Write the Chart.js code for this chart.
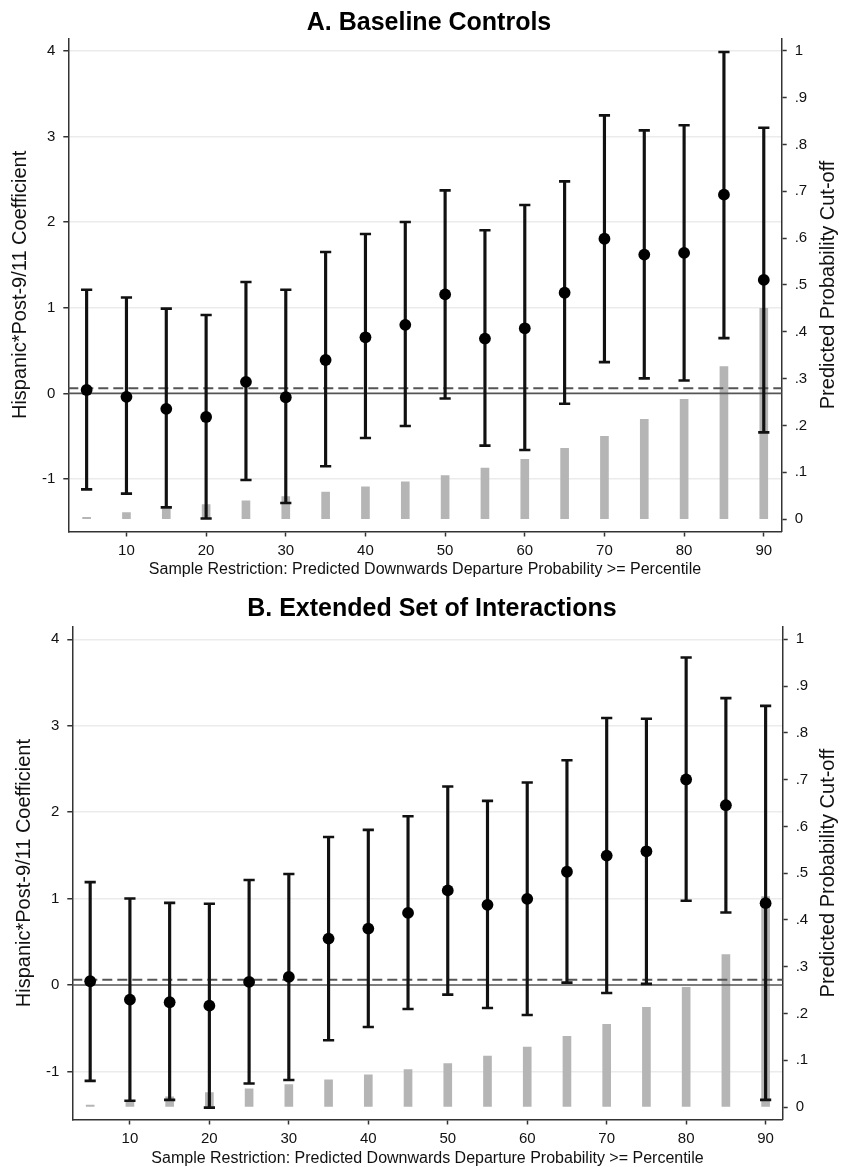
<!DOCTYPE html>
<html>
<head>
<meta charset="utf-8">
<script src="https://cdn.jsdelivr.net/npm/chart.js@4.4.0/dist/chart.umd.min.js"></script>
<style>
body { margin:0; background:#fff; }
canvas { display:block; }
</style>
</head>
<body>
<canvas id="chartA" width="842" height="583"></canvas>
<canvas id="chartB" width="842" height="584"></canvas>
<script>

// Sample restriction percentiles (x axis). 
const percentiles = [5,10,15,20,25,30,35,40,45,50,55,60,65,70,75,80,85,90];

// Predicted probability cut-off at each percentile (grey bars, right axis). 
const cutoff = [0.004,0.014,0.022,0.031,0.039,0.048,0.058,0.069,0.080,0.093,0.109,0.128,0.151,0.177,0.213,0.256,0.326,0.450];

// Panel A: baseline controls. 
const coefA = [0.04,-0.04,-0.18,-0.275,0.135,-0.045,0.39,0.655,0.80,1.155,0.64,0.76,1.175,1.805,1.62,1.64,2.32,1.325];
const hiA   = [1.21,1.12,0.99,0.915,1.30,1.21,1.65,1.86,2.00,2.37,1.905,2.20,2.475,3.245,3.07,3.13,3.985,3.10];
const loA   = [-1.12,-1.17,-1.33,-1.46,-1.01,-1.28,-0.85,-0.52,-0.38,-0.06,-0.61,-0.66,-0.12,0.365,0.175,0.15,0.645,-0.455];

// Panel B: extended set of interactions. 
const coefB = [0.043,-0.17,-0.20,-0.24,0.035,0.093,0.537,0.652,0.834,1.094,0.927,0.997,1.31,1.497,1.547,2.378,2.08,0.947];
const hiB   = [1.19,1.0,0.95,0.94,1.215,1.284,1.713,1.795,1.953,2.297,2.13,2.343,2.60,3.09,3.08,3.79,3.32,3.23];
const loB   = [-1.11,-1.34,-1.33,-1.42,-1.14,-1.10,-0.64,-0.487,-0.278,-0.112,-0.267,-0.348,0.027,-0.093,0.012,0.974,0.838,-1.33];

// Dashed reference line (coefficient scale). 
const dashedRef = 0.06;

// Tick values and labels. 
const xTicks = [10,20,30,40,50,60,70,80,90];
const leftTicks = [-1,0,1,2,3,4];
const rightTicks = [0,0.1,0.2,0.3,0.4,0.5,0.6,0.7,0.8,0.9,1];
const rightTickLabels = ['0','.1','.2','.3','.4','.5','.6','.7','.8','.9','1'];

// Texts. 
const xTitle = 'Sample Restriction: Predicted Downwards Departure Probability >= Percentile';
const yTitle = 'Hispanic*Post-9/11 Coefficient';
const y1Title = 'Predicted Probability Cut-off';


/*****/


Chart.defaults.font.family = "'Liberation Sans', Arial, sans-serif";
Chart.defaults.color = '#111';

const AXIS = '#333';

// Draw panel title and right-hand axis title (Stata style, reading upwards). 
const panelText = {
	id:'panelText',
	afterDraw(chart, args, o) {
		const ctx = chart.ctx;
		const area = chart.chartArea;
		ctx.save();
		ctx.fillStyle = '#000';
		ctx.textAlign = 'center';
		ctx.textBaseline = 'middle';
		ctx.font = "bold 25px 'Liberation Sans', Arial, sans-serif";
		ctx.fillText(o.title, o.titleX, o.titleY);
		ctx.fillStyle = '#111';
		ctx.font = "20px 'Liberation Sans', Arial, sans-serif";
		ctx.translate(o.y1TitleX, (area.top + area.bottom) / 2);
		ctx.rotate(-Math.PI / 2);
		ctx.fillText(y1Title, 0, 0);
		ctx.restore();
	}
};

function makeChart(id, coef, lo, hi, L) {

	const ctx = document.getElementById(id).getContext('2d');

	return new Chart(ctx, {
		type:'bar',
		data:{
			datasets:[
				{
					type:'bar',
					data:percentiles.map((p,i) => ({x:p, y:cutoff[i]})),
					backgroundColor:'#b5b5b5',
					barThickness:8,
					grouped:false,
					yAxisID:'y1',
					order:6
				},
				{
					type:'line',
					data:[{x:L.xMin, y:0},{x:L.xMax, y:0}],
					borderColor:'#555',
					borderWidth:1.6,
					pointRadius:0,
					yAxisID:'y',
					order:5
				},
				{
					type:'line',
					data:[{x:L.xMin, y:dashedRef},{x:L.xMax, y:dashedRef}],
					borderColor:'#555',
					borderWidth:2,
					borderDash:[10,5],
					pointRadius:0,
					yAxisID:'y',
					order:4
				},
				{
					type:'bar',
					data:percentiles.map((p,i) => ({x:p, y:[lo[i], hi[i]]})),
					backgroundColor:'#111',
					barThickness:2.5,
					grouped:false,
					yAxisID:'y',
					order:3
				},
				{
					type:'scatter',
					data:percentiles.map((p,i) => ({x:p, y:hi[i]})).concat(percentiles.map((p,i) => ({x:p, y:lo[i]}))),
					pointStyle:'line',
					pointRadius:5.6,
					borderColor:'#111',
					borderWidth:2.6,
					yAxisID:'y',
					order:2
				},
				{
					type:'scatter',
					data:percentiles.map((p,i) => ({x:p, y:coef[i]})),
					pointRadius:5.9,
					backgroundColor:'#000',
					borderWidth:0,
					yAxisID:'y',
					order:1
				}
			]
		},
		options:{
			responsive:false,
			animation:false,
			events:[],
			layout:{padding:{top:L.top, left:0, right:0, bottom:0}},
			plugins:{
				legend:{display:false},
				tooltip:{enabled:false},
				panelText:{title:L.title, titleX:L.titleX, titleY:L.titleY, y1TitleX:L.y1TitleX}
			},
			scales:{
				x:{
					type:'linear',
					offset:false,
					min:L.xMin, max:L.xMax,
					afterBuildTicks:s => { s.ticks = xTicks.map(v => ({value:v})); },
					afterFit:s => { s.height = L.xHeight; },
					grid:{offset:false, drawOnChartArea:false, tickLength:5, tickWidth:1.5, tickColor:AXIS},
					border:{color:AXIS, width:1.5},
					ticks:{font:{size:15}, color:'#111', padding:5, maxRotation:0, autoSkip:false},
					title:{display:true, text:xTitle, font:{size:16}, color:'#111', padding:{top:0, bottom:L.xTitlePad}}
				},
				y:{
					position:'left',
					min:L.yMin, max:L.yMax,
					afterBuildTicks:s => { s.ticks = leftTicks.map(v => ({value:v})); },
					afterFit:s => { s.width = L.leftWidth; },
					grid:{
						color:c => (c.tick && c.tick.value === 0) ? 'rgba(0,0,0,0)' : '#ebebeb',
						lineWidth:1.5, tickLength:5, tickWidth:1.5, tickColor:AXIS
					},
					border:{color:AXIS, width:1.5},
					ticks:{font:{size:15}, color:'#111', padding:8, callback:v => String(v)},
					title:{display:true, text:yTitle, font:{size:20}, color:'#111', padding:{top:L.yTitlePad, bottom:0}}
				},
				y1:{
					position:'right',
					min:L.y1Min, max:L.y1Max,
					afterBuildTicks:s => { s.ticks = rightTicks.map(v => ({value:v})); },
					afterFit:s => { s.width = L.rightWidth; },
					grid:{drawOnChartArea:false, tickLength:5, tickWidth:1.5, tickColor:AXIS},
					border:{color:AXIS, width:1.5},
					ticks:{font:{size:15}, color:'#111', padding:8, callback:(v,i) => rightTickLabels[i]}
				}
			}
		},
		plugins:[panelText]
	});
}

makeChart('chartA', coefA, loA, hiA, {
	title:'A. Baseline Controls', titleX:429, titleY:23,
	top:38.3, leftWidth:68.3, rightWidth:60.3, xHeight:51.5,
	xMin:2.7, xMax:92.25,
	yMin:-1.612, yMax:4.145, y1Min:-0.0263, y1Max:1.0266,
	xTitlePad:4, yTitlePad:8, y1TitleX:828
});

makeChart('chartB', coefB, loB, hiB, {
	title:'B. Extended Set of Interactions', titleX:432, titleY:26.5,
	top:43.7, leftWidth:72.3, rightWidth:59.3, xHeight:47.5,
	xMin:2.75, xMax:92.15,
	yMin:-1.557, yMax:4.146, y1Min:-0.0267, y1Max:1.027,
	xTitlePad:-1, yTitlePad:12, y1TitleX:828
});

</script>
</body>
</html>
